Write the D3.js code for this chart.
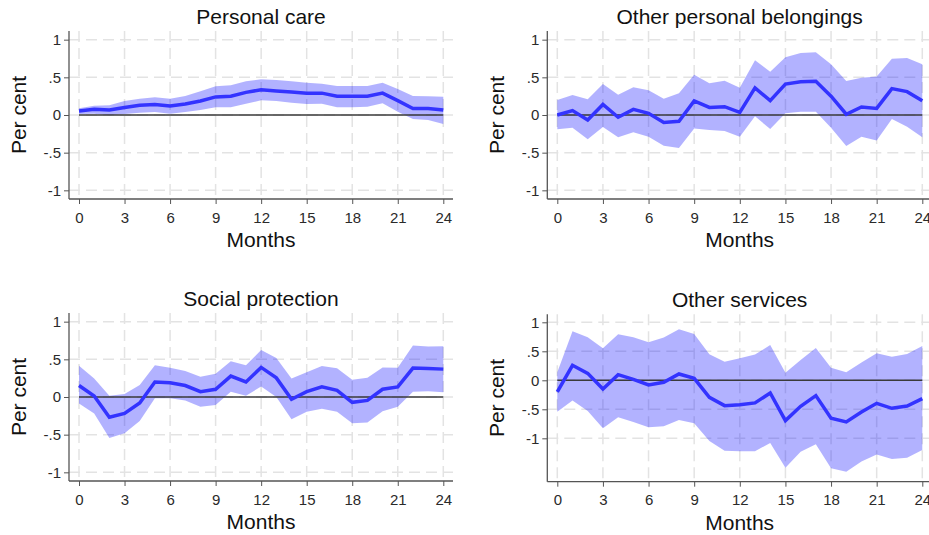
<!DOCTYPE html>
<html>
<head>
<meta charset="utf-8">
<script src="https://cdn.jsdelivr.net/npm/d3@7"></script>
<style>
  html, body { margin: 0; padding: 0; background: #fff; }
  svg { display: block; font-family: "Liberation Sans", Arial, sans-serif; }
</style>
</head>
<body>
<svg id="chart" width="929" height="535"></svg>
<script>
// ---------------- DATA ----------------
const months = [0,1,2,3,4,5,6,7,8,9,10,11,12,13,14,15,16,17,18,19,20,21,22,23,24];
const xTicks = [0,3,6,9,12,15,18,21,24];
const yTicks = [-1,-0.5,0,0.5,1];
const yTickLabels = ["-1","-.5","0",".5","1"];
const panelTitles = ["Personal care","Other personal belongings","Social protection","Other services"];

const personalCareMean  = [0.053,0.075,0.066,0.10,0.128,0.14,0.12,0.146,0.186,0.24,0.25,0.30,0.336,0.32,0.305,0.29,0.29,0.25,0.25,0.25,0.29,0.19,0.085,0.085,0.066];
const personalCareUpper = [0.088,0.124,0.128,0.186,0.217,0.235,0.217,0.252,0.314,0.381,0.394,0.447,0.473,0.465,0.447,0.429,0.416,0.385,0.385,0.385,0.429,0.345,0.252,0.248,0.243];
const personalCareLower = [0.013,0.018,-0.004,0.013,0.031,0.040,0.018,0.040,0.066,0.102,0.102,0.150,0.195,0.186,0.164,0.146,0.150,0.102,0.102,0.111,0.155,0.044,-0.053,-0.066,-0.119];

const belongingsMean  = [0.0,0.058,-0.066,0.14,-0.03,0.075,0.022,-0.10,-0.084,0.186,0.10,0.11,0.035,0.36,0.19,0.41,0.44,0.447,0.25,0.01,0.106,0.088,0.35,0.31,0.19];
const belongingsUpper = [0.20,0.265,0.21,0.41,0.27,0.367,0.33,0.217,0.29,0.535,0.42,0.456,0.363,0.726,0.575,0.765,0.823,0.832,0.673,0.45,0.496,0.51,0.748,0.757,0.673];
const belongingsLower = [-0.19,-0.168,-0.323,-0.16,-0.296,-0.23,-0.29,-0.407,-0.438,-0.18,-0.20,-0.212,-0.288,-0.018,-0.186,0.022,0.044,0.044,-0.168,-0.41,-0.288,-0.34,-0.053,-0.155,-0.296];

const socialMean  = [0.152,0.013,-0.268,-0.219,-0.08,0.20,0.188,0.152,0.071,0.103,0.277,0.20,0.393,0.254,-0.031,0.071,0.134,0.089,-0.071,-0.045,0.103,0.134,0.384,0.379,0.37];
const socialUpper = [0.415,0.245,0.018,0.04,0.16,0.42,0.388,0.344,0.268,0.308,0.473,0.42,0.625,0.518,0.245,0.33,0.41,0.38,0.228,0.254,0.393,0.388,0.683,0.67,0.674];
const socialLower = [-0.085,-0.219,-0.545,-0.482,-0.32,-0.018,-0.018,-0.045,-0.13,-0.107,0.071,0.018,0.138,0.0,-0.295,-0.196,-0.156,-0.196,-0.348,-0.34,-0.188,-0.13,0.071,0.076,0.0625];

const servicesMean  = [-0.20,0.259,0.12,-0.15,0.098,0.017,-0.08,-0.034,0.109,0.034,-0.293,-0.437,-0.42,-0.39,-0.218,-0.695,-0.448,-0.264,-0.655,-0.718,-0.546,-0.397,-0.483,-0.443,-0.316];
const servicesUpper = [0.138,0.845,0.741,0.552,0.793,0.741,0.655,0.736,0.879,0.80,0.448,0.322,0.379,0.443,0.609,0.132,0.35,0.557,0.218,0.138,0.305,0.466,0.408,0.454,0.592];
const servicesLower = [-0.54,-0.35,-0.529,-0.828,-0.638,-0.718,-0.81,-0.793,-0.684,-0.741,-1.046,-1.213,-1.224,-1.224,-1.08,-1.506,-1.23,-1.103,-1.517,-1.575,-1.40,-1.28,-1.356,-1.333,-1.20];

// ---------------- LAYOUT ----------------
const panels = [
  { title: panelTitles[0], mean: personalCareMean, upper: personalCareUpper, lower: personalCareLower,
    axisX: 69, right: 453, top: 31, bottom: 199, x0: 79, x24: 443.3, yDomain: [-1.115, 1.115] },
  { title: panelTitles[1], mean: belongingsMean, upper: belongingsUpper, lower: belongingsLower,
    axisX: 547.3, right: 932, top: 31, bottom: 199, x0: 557.3, x24: 922.3, yDomain: [-1.115, 1.115] },
  { title: panelTitles[2], mean: socialMean, upper: socialUpper, lower: socialLower,
    axisX: 69, right: 453, top: 313, bottom: 481, x0: 79, x24: 443.3, yDomain: [-1.115, 1.115] },
  { title: panelTitles[3], mean: servicesMean, upper: servicesUpper, lower: servicesLower,
    axisX: 547.3, right: 932, top: 314.3, bottom: 481.7, x0: 557.3, x24: 922.3, yDomain: [-1.748, 1.138] }
];

const svg = d3.select("#chart");

panels.forEach(p => {
  const x = d3.scaleLinear().domain([0, 24]).range([p.x0, p.x24]);
  const y = d3.scaleLinear().domain(p.yDomain).range([p.bottom, p.top]);
  const g = svg.append("g");

  // grid
  const grid = g.append("g").attr("stroke", "#e3e3e3").attr("stroke-width", 1.5).attr("stroke-dasharray", "11,6");
  grid.selectAll("line.h").data(yTicks).enter().append("line")
    .attr("x1", p.axisX).attr("x2", p.right)
    .attr("y1", d => y(d)).attr("y2", d => y(d));
  grid.selectAll("line.v").data(xTicks).enter().append("line")
    .attr("x1", d => x(d)).attr("x2", d => x(d))
    .attr("y1", p.top).attr("y2", p.bottom);

  const rows = months.map((m, i) => ({ m, mean: p.mean[i], lo: p.lower[i], hi: p.upper[i] }));

  // band
  g.append("path").datum(rows)
    .attr("fill", "rgb(0,0,255)").attr("fill-opacity", 0.3)
    .attr("d", d3.area().x(d => x(d.m)).y0(d => y(d.lo)).y1(d => y(d.hi)));

  // zero line
  g.append("path").datum(rows)
    .attr("fill", "none").attr("stroke", "#3a3a3a").attr("stroke-width", 1.5)
    .attr("d", d3.line().x(d => x(d.m)).y(() => y(0)));

  // mean line
  g.append("path").datum(rows)
    .attr("fill", "none").attr("stroke", "#3333ff").attr("stroke-width", 3.5)
    .attr("stroke-linejoin", "miter")
    .attr("d", d3.line().x(d => x(d.m)).y(d => y(d.mean)));

  // axes
  const yAxis = d3.axisLeft(y).tickValues(yTicks)
    .tickFormat(d => yTickLabels[yTicks.indexOf(d)])
    .tickSize(5).tickPadding(3);
  const ya = g.append("g").attr("transform", `translate(${p.axisX},0)`).call(yAxis);
  ya.select(".domain").remove();
  ya.selectAll(".tick line").attr("stroke", "#555");
  ya.selectAll(".tick text").attr("fill", "#2a2a2a").style("font-size", "15px").style("font-family", "Liberation Sans, Arial, sans-serif");

  const xAxis = d3.axisBottom(x).tickValues(xTicks).tickSize(5).tickPadding(8);
  const xa = g.append("g").attr("transform", `translate(0,${p.bottom})`).call(xAxis);
  xa.select(".domain").remove();
  xa.selectAll(".tick line").attr("stroke", "#555");
  xa.selectAll(".tick text").attr("fill", "#2a2a2a").style("font-size", "15px").style("font-family", "Liberation Sans, Arial, sans-serif");

  // axis lines
  g.append("line").attr("x1", p.axisX).attr("x2", p.axisX).attr("y1", p.top).attr("y2", p.bottom)
    .attr("stroke", "#555").attr("stroke-width", 1.3);
  g.append("line").attr("x1", p.axisX).attr("x2", p.right).attr("y1", p.bottom).attr("y2", p.bottom)
    .attr("stroke", "#555").attr("stroke-width", 1.3);

  const cx = (p.axisX + p.right) / 2;
  // title
  g.append("text").attr("x", cx).attr("y", p.top - 7)
    .attr("text-anchor", "middle").attr("fill", "#111").style("font-size", "21px")
    .text(p.title);
  // x label
  g.append("text").attr("x", cx).attr("y", p.bottom + 48)
    .attr("text-anchor", "middle").attr("fill", "#111").style("font-size", "21px")
    .text("Months");
  // y label
  g.append("text")
    .attr("transform", `translate(${p.axisX - 43},${(p.top + p.bottom) / 2}) rotate(-90)`)
    .attr("text-anchor", "middle").attr("fill", "#111").style("font-size", "21px")
    .text("Per cent");
});
</script>
</body>
</html>
